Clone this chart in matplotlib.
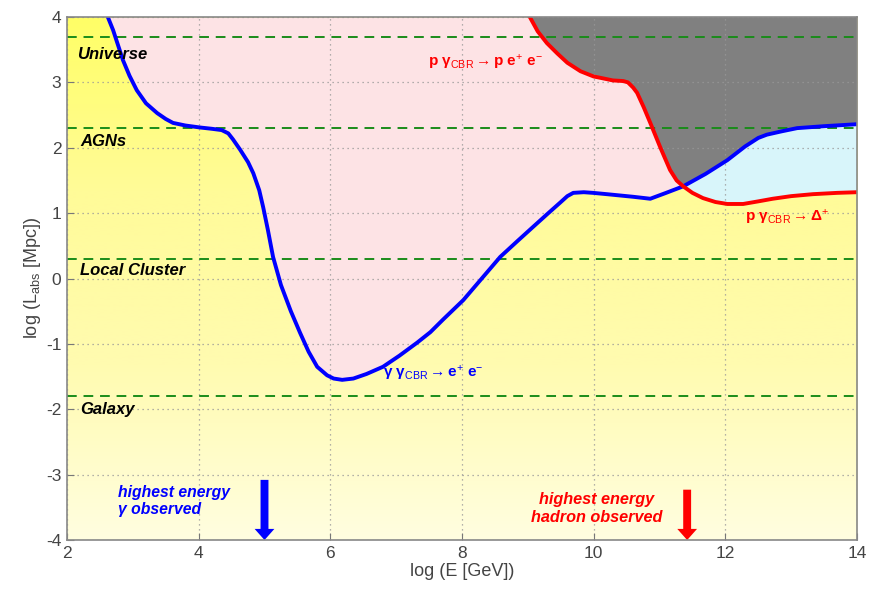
import numpy as np
import matplotlib
matplotlib.use("Agg")
import matplotlib.pyplot as plt
from matplotlib.colors import LinearSegmentedColormap

plt.rcParams['font.family'] = ['Liberation Sans', 'DejaVu Sans']
plt.rcParams['mathtext.fontset'] = 'custom'
plt.rcParams['mathtext.rm'] = 'Liberation Sans'
plt.rcParams['mathtext.it'] = 'Liberation Sans:italic'
plt.rcParams['mathtext.bf'] = 'Liberation Sans:bold'
plt.rcParams['axes.unicode_minus'] = False

# gamma gamma_CBR -> e+ e- absorption length (log E, log L)
gamma_x = [2.62, 2.70, 2.85, 2.95, 3.06, 3.20, 3.37, 3.50, 3.61, 3.80, 4.02, 4.20,
           4.35, 4.45, 4.52, 4.63, 4.75, 4.83, 4.92, 4.98, 5.05, 5.13, 5.25, 5.40,
           5.54, 5.67, 5.80, 5.95, 6.05, 6.18, 6.35, 6.55, 6.80, 7.05, 7.32, 7.52,
           7.71, 8.02, 8.30, 8.58, 8.85, 9.08, 9.30, 9.49, 9.60, 9.69, 9.85, 9.99,
           10.20, 10.40, 10.60, 10.86, 11.10, 11.36, 11.70, 12.03, 12.30, 12.50,
           12.63, 12.85, 13.09, 13.50, 14.00]
gamma_y = [4.00, 3.80, 3.34, 3.10, 2.88, 2.68, 2.53, 2.44, 2.38, 2.34, 2.31, 2.29,
           2.27, 2.22, 2.13, 1.97, 1.78, 1.61, 1.35, 1.09, 0.75, 0.33, -0.10, -0.50,
           -0.83, -1.12, -1.35, -1.48, -1.53, -1.55, -1.53, -1.46, -1.35, -1.18, -0.98, -0.82,
           -0.63, -0.33, 0.00, 0.33, 0.58, 0.79, 0.99, 1.16, 1.26, 1.31, 1.32, 1.31,
           1.29, 1.27, 1.25, 1.22, 1.31, 1.41, 1.60, 1.81, 2.02, 2.15,
           2.20, 2.25, 2.30, 2.33, 2.36]

# proton losses: p gamma_CBR -> p e+ e- and p gamma_CBR -> Delta+
proton_x = [9.03, 9.15, 9.29, 9.45, 9.60, 9.80, 10.00, 10.10, 10.29, 10.45, 10.52,
            10.60, 10.66, 10.76, 10.86, 11.01, 11.16, 11.26, 11.36, 11.50, 11.66,
            11.85, 12.03, 12.27, 12.50, 12.72, 13.00, 13.33, 13.70, 14.00]
proton_y = [4.00, 3.78, 3.60, 3.44, 3.30, 3.17, 3.09, 3.07, 3.03, 3.02, 3.00,
            2.92, 2.84, 2.62, 2.38, 2.01, 1.66, 1.50, 1.41, 1.31, 1.23,
            1.17, 1.14, 1.14, 1.18, 1.22, 1.26, 1.29, 1.31, 1.32]
cross_x = 11.36

# reference distances
scale_names = ['Universe', 'AGNs', 'Local Cluster', 'Galaxy']
scale_y = [3.7, 2.3, 0.3, -1.8]

# highest observed energies
gamma_max_E = 5.0
hadron_max_E = 11.42

gamma_x = np.array(gamma_x)
gamma_y = np.array(gamma_y)
proton_x = np.array(proton_x)
proton_y = np.array(proton_y)

fig = plt.figure(figsize=(8.69, 5.9), dpi=100)
ax = fig.add_axes([0.0771, 0.0847, 0.9091, 0.8865])

# yellow background gradient
cmap = LinearSegmentedColormap.from_list('yel', ['#fffee0', '#fffbb0', '#fffb98', '#ffff66'])
grad = np.linspace(0, 1, 256).reshape(-1, 1)
ax.imshow(grad, extent=[2, 14, -4, 4], origin='lower', aspect='auto', cmap=cmap, zorder=0)

# regions: pink above the gamma curve
ax.fill_between(gamma_x, gamma_y, 4, color='#fde3e5', lw=0, zorder=1)
# cyan between proton curve (below) and gamma curve (above)
pm = proton_x >= cross_x
gm = gamma_x >= cross_x
cyan_x = np.concatenate([proton_x[pm], gamma_x[gm][::-1]])
cyan_y = np.concatenate([proton_y[pm], gamma_y[gm][::-1]])
ax.fill(cyan_x, cyan_y, color='#d8f5fa', lw=0, zorder=2)
# grey above both curves
pm = proton_x <= cross_x
gm = gamma_x > cross_x
grey_x = np.concatenate([proton_x[pm], gamma_x[gm], [14, proton_x[0]]])
grey_y = np.concatenate([proton_y[pm], gamma_y[gm], [4, 4]])
ax.fill(grey_x, grey_y, color='#808080', lw=0, zorder=2)

ax.grid(True, color='#999999', linestyle=(0, (1, 3)), linewidth=0.9, zorder=4)
ax.set_axisbelow(False)

for yv in scale_y:
    ax.axhline(yv, color='#1a8c1a', linestyle=(0, (5, 3.5)), linewidth=1.4, zorder=5)

ax.plot(gamma_x, gamma_y, color='#0000ff', lw=2.8, zorder=6, solid_joinstyle='round')
ax.plot(proton_x, proton_y, color='#ff0000', lw=2.8, zorder=7, solid_joinstyle='round')

label_pos = [(2.15, 3.43), (2.2, 2.1), (2.2, 0.12), (2.2, -2.0)]
for name, (lx, ly) in zip(scale_names, label_pos):
    ax.text(lx, ly, name, fontsize=12, fontweight='bold', fontstyle='italic',
            color='black', va='center', ha='left', zorder=8)

ax.text(7.48, 3.31, r'p γ$_{\mathrm{CBR}}$$\rightarrow$p e$^{+}$ e$^{-}$', color='#ff0000',
        fontsize=11, fontweight='bold', va='center', ha='left', zorder=8)
ax.text(12.3, 0.93, r'p γ$_{\mathrm{CBR}}$$\rightarrow$Δ$^{+}$', color='#ff0000',
        fontsize=11, fontweight='bold', va='center', ha='left', zorder=8)
ax.text(6.8, -1.45, r'γ γ$_{\mathrm{CBR}}$$\rightarrow$e$^{+}$ e$^{-}$', color='#0000ff',
        fontsize=11, fontweight='bold', va='center', ha='left', zorder=8)

ax.text(2.78, -3.40, 'highest energy\nγ observed', color='#0000ff',
        fontsize=11.3, fontweight='bold', fontstyle='italic', va='center', ha='left',
        linespacing=1.2, zorder=8)
ax.text(11.04, -3.52, 'highest energy\nhadron observed', color='#ff0000',
        fontsize=11.7, fontweight='bold', fontstyle='italic', va='center', ha='right',
        linespacing=1.2, multialignment='center', zorder=8)

ax.arrow(gamma_max_E, -3.08, 0, -0.92, width=0.12, head_width=0.3, head_length=0.17,
         length_includes_head=True, color='#0000ff', lw=0, zorder=8)
ax.arrow(hadron_max_E, -3.23, 0, -0.77, width=0.12, head_width=0.3, head_length=0.17,
         length_includes_head=True, color='#ff0000', lw=0, zorder=8)

ax.set_xlim(2, 14)
ax.set_ylim(-4, 4)
ax.set_xticks(np.arange(2, 15, 2))
ax.set_yticks(np.arange(-4, 5, 1))
ax.tick_params(direction='in', length=5, color='#777777', labelsize=12.5,
               labelcolor='#444444', pad=4)
for s in ax.spines.values():
    s.set_color('#888888')
    s.set_linewidth(1.2)
    s.set_zorder(9)

ax.set_xlabel('log (E [GeV])', fontsize=13, color='#444444', labelpad=2)
ax.set_ylabel(r'log (L$_{\mathrm{abs}}$ [Mpc])', fontsize=13, color='#444444', labelpad=2)

fig.savefig('out.png', dpi=100)
